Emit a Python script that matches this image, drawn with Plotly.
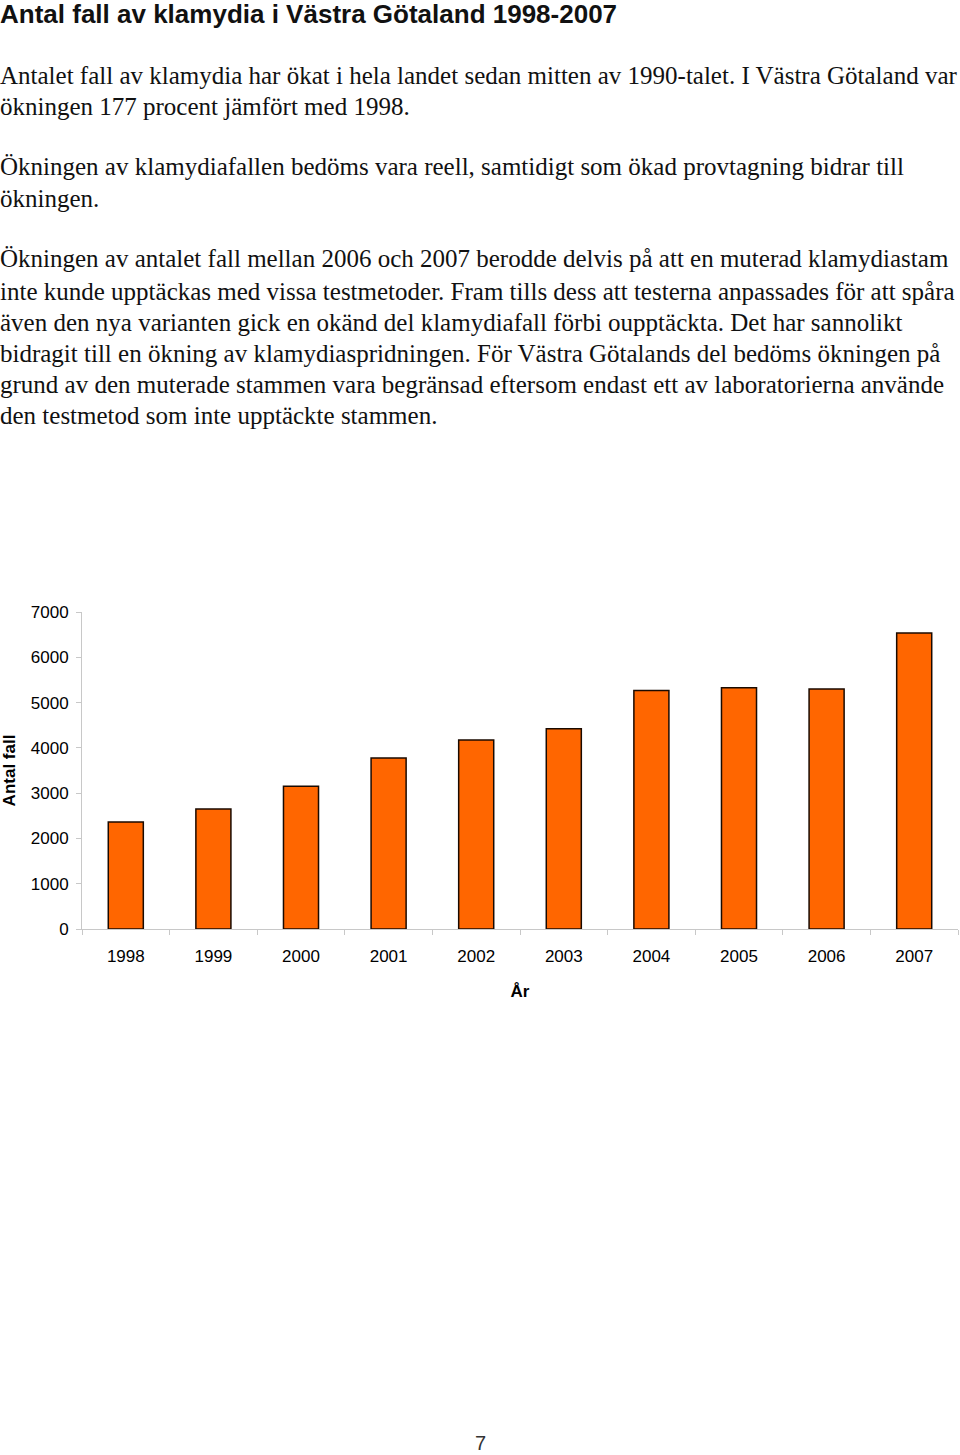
import plotly.graph_objects as go

years = ["1998", "1999", "2000", "2001", "2002", "2003", "2004", "2005", "2006", "2007"]
cases = [2363, 2650, 3150, 3776, 4173, 4423, 5268, 5328, 5299, 6536]
y_ticks = [0, 1000, 2000, 3000, 4000, 5000, 6000, 7000]

title_text = "Antal fall av klamydia i Västra Götaland 1998-2007"
body_lines = [
    (75, "Antalet fall av klamydia har ökat i hela landet sedan mitten av 1990-talet. I Västra Götaland var"),
    (106, "ökningen 177 procent jämfört med 1998."),
    (167, "Ökningen av klamydiafallen bedöms vara reell, samtidigt som ökad provtagning bidrar till"),
    (198, "ökningen."),
    (259, "Ökningen av antalet fall mellan 2006 och 2007 berodde delvis på att en muterad klamydiastam"),
    (291, "inte kunde upptäckas med vissa testmetoder. Fram tills dess att testerna anpassades för att spåra"),
    (322, "även den nya varianten gick en okänd del klamydiafall förbi oupptäckta. Det har sannolikt"),
    (353, "bidragit till en ökning av klamydiaspridningen. För Västra Götalands del bedöms ökningen på"),
    (384, "grund av den muterade stammen vara begränsad eftersom endast ett av laboratorierna använde"),
    (415, "den testmetod som inte upptäckte stammen."),
]

W, H = 960, 1455
L, R, T, B = 82, 2, 612, 526
PW, PH = W - L - R, H - T - B


def px(x):
    return (x - L) / PW


def py(y):
    return (H - B - y) / PH


fig = go.Figure()
fig.add_trace(go.Bar(
    x=years, y=cases, width=0.4,
    marker=dict(color="#FF6600", line=dict(color="#1a0a00", width=1.5)),
))

annotations = [
    dict(text="<b>" + title_text + "</b>", x=px(-1), y=py(14), xref="paper", yref="paper",
         xanchor="left", yanchor="middle", showarrow=False, borderpad=0,
         font=dict(family="Liberation Sans", size=26, color="#111")),
    dict(text="7", x=px(480), y=py(1443), xref="paper", yref="paper",
         xanchor="center", yanchor="middle", showarrow=False,
         font=dict(family="Liberation Sans", size=20, color="#333")),
]
for yy, line in body_lines:
    annotations.append(dict(text=line, x=px(-1), y=py(yy), xref="paper", yref="paper",
                            xanchor="left", yanchor="middle", showarrow=False, borderpad=0,
                            font=dict(family="Liberation Serif", size=25, color="#111")))

fig.update_layout(
    width=W, height=H,
    margin=dict(l=L, r=R, t=T, b=B, autoexpand=False),
    paper_bgcolor="white", plot_bgcolor="white",
    showlegend=False,
    bargap=0.6,
    annotations=annotations,
    font=dict(family="Liberation Sans", size=17, color="black"),
)
fig.update_xaxes(
    type="category", showline=True, linecolor="#c8c8c8", linewidth=1,
    ticks="outside", tickson="boundaries", ticklen=5, tickcolor="#c8c8c8",
    showgrid=False, ticklabelstandoff=12,
    tickfont=dict(family="Liberation Sans", size=17, color="black"),
    title=dict(text="<b>År</b>", standoff=19,
               font=dict(family="Liberation Sans", size=17, color="black")),
)
fig.update_yaxes(
    range=[0, 7000], tickvals=y_ticks, showline=True, linecolor="#c8c8c8", linewidth=1,
    ticks="outside", ticklen=5, tickcolor="#c8c8c8", showgrid=False, zeroline=False,
    ticklabelstandoff=4,
    tickfont=dict(family="Liberation Sans", size=17, color="black"),
    title=dict(text="<b>Antal fall</b>", standoff=18,
               font=dict(family="Liberation Sans", size=17, color="black")),
)

fig.write_html("out.html", config={"displayModeBar": False},
               post_script="document.body.style.margin='0';")
